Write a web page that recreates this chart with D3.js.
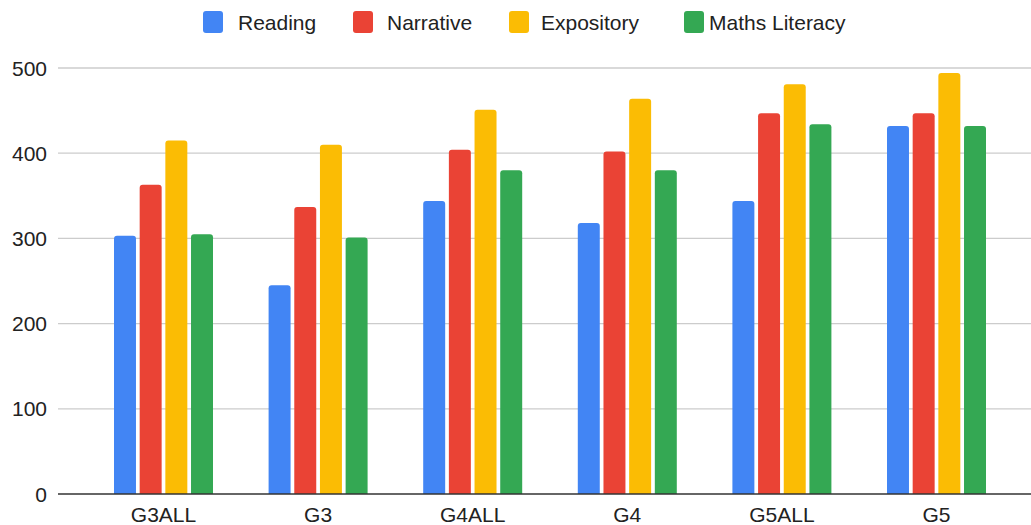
<!DOCTYPE html>
<html>
<head>
<meta charset="utf-8">
<script src="https://cdn.jsdelivr.net/npm/d3@7"></script>
<style>
  html, body { margin: 0; padding: 0; background: #fff; }
  svg { display: block; font-family: "Liberation Sans", Arial, sans-serif; }
</style>
</head>
<body>
<svg id="chart" width="1031" height="525"></svg>
<script>
// Grade groups along the x axis
const categories = ["G3ALL", "G3", "G4ALL", "G4", "G5ALL", "G5"];
// Series names, in legend order
const seriesNames = ["Reading", "Narrative", "Expository", "Maths Literacy"];
// Scores per series, one value per grade group
const reading    = [303, 245, 344, 318, 344, 432];
const narrative  = [363, 337, 404, 402, 447, 447];
const expository = [415, 410, 451, 464, 481, 494];
const maths      = [305, 301, 380, 380, 434, 432];
// y-axis ticks
const yTicks = [0, 100, 200, 300, 400, 500];

const seriesValues = [reading, narrative, expository, maths];
const colors = ["#4285F4", "#EA4335", "#FBBC04", "#34A853"];

const svg = d3.select("#chart");
const W = 1031;

const plotLeft = 58, plotRight = W;
const y = d3.scaleLinear().domain([0, 500]).range([494, 68]);

const x0 = d3.scaleBand().domain(categories).range([86.2, 1013.8]).padding(0);
const groupW = 99;
const off = (x0.bandwidth() - groupW) / 2;
const x1 = d3.scaleBand().domain(seriesNames).range([off, off + groupW])
  .paddingInner(0.144).paddingOuter(0);

// Gridlines
svg.append("g").selectAll("line")
  .data(yTicks.filter(d => d !== 0))
  .join("line")
  .attr("x1", plotLeft).attr("x2", plotRight)
  .attr("y1", d => y(d)).attr("y2", d => y(d))
  .attr("stroke", "#cccccc").attr("stroke-width", 1.3);

// Y tick labels
svg.append("g").selectAll("text")
  .data(yTicks)
  .join("text")
  .attr("x", 47).attr("y", d => y(d))
  .attr("dy", "0.36em")
  .attr("text-anchor", "end")
  .attr("font-size", 21)
  .attr("fill", "#222")
  .text(d => d);

// Bars with rounded top corners
function barPath(x, w, yTop, yBase, r) {
  r = Math.min(r, (yBase - yTop), w / 2);
  return `M${x},${yBase}V${yTop + r}Q${x},${yTop} ${x + r},${yTop}` +
         `H${x + w - r}Q${x + w},${yTop} ${x + w},${yTop + r}V${yBase}Z`;
}

const rows = [];
categories.forEach((c, i) => {
  seriesNames.forEach((s, j) => {
    rows.push({ cat: c, series: s, value: seriesValues[j][i], color: colors[j] });
  });
});

svg.append("g").selectAll("path")
  .data(rows)
  .join("path")
  .attr("d", d => barPath(x0(d.cat) + x1(d.series), x1.bandwidth(), y(d.value), y(0), 3))
  .attr("fill", d => d.color);

// Baseline
svg.append("line")
  .attr("x1", plotLeft).attr("x2", plotRight)
  .attr("y1", y(0)).attr("y2", y(0))
  .attr("stroke", "#333").attr("stroke-width", 1.5);

// X category labels
svg.append("g").selectAll("text")
  .data(categories)
  .join("text")
  .attr("x", d => x0(d) + x0.bandwidth() / 2)
  .attr("y", 522)
  .attr("text-anchor", "middle")
  .attr("font-size", 21)
  .attr("fill", "#222")
  .text(d => d);

// Legend
const legendX = [203, 353, 509, 684];
const legend = svg.append("g").selectAll("g")
  .data(seriesNames)
  .join("g")
  .attr("transform", (d, i) => `translate(${legendX[i]},0)`);
legend.append("rect")
  .attr("x", 0).attr("y", 11).attr("width", 20).attr("height", 22)
  .attr("rx", 3).attr("fill", (d, i) => colors[i]);
legend.append("text")
  .attr("x", (d, i) => [35, 34, 32, 25][i]).attr("y", 30)
  .attr("font-size", 21)
  .attr("fill", "#222")
  .text(d => d);
</script>
</body>
</html>
